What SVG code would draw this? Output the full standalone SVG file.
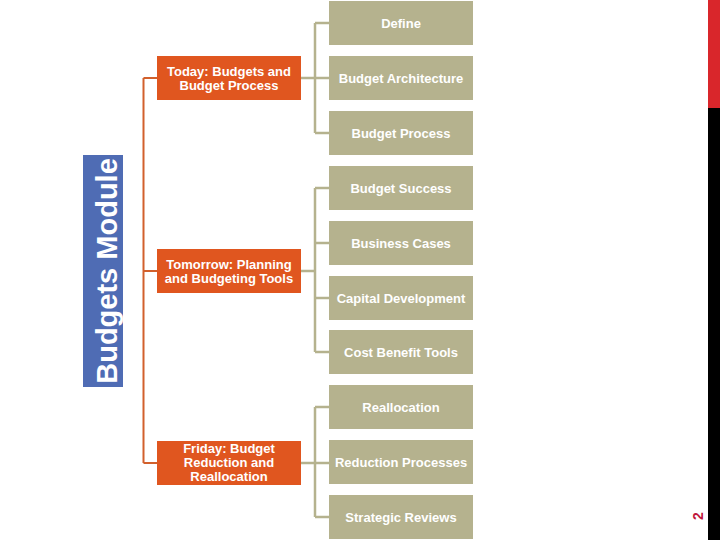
<svg xmlns="http://www.w3.org/2000/svg" width="720" height="540" viewBox="0 0 720 540">
<style>
.leaf{fill:#B5B28E}
.main{fill:#E0561F}
.t{font-family:"Liberation Sans",Arial,sans-serif;font-weight:bold;font-size:13px;fill:#FFFFFF;text-anchor:middle}
.g{stroke:#B5B28E;stroke-width:2.5;fill:none}
.o{stroke:#D2602C;stroke-width:2;fill:none}
</style>
<rect width="720" height="540" fill="#FFFFFF"/>
<rect x="708" y="0" width="12" height="108" fill="#D9262B"/>
<rect x="708" y="108" width="12" height="432" fill="#000000"/>
<text x="0" y="0" transform="translate(703,516) rotate(-90)" font-family="Liberation Sans,Arial,sans-serif" font-size="14" font-weight="bold" fill="#C0163C" text-anchor="middle">2</text>
<g id="title">
<rect x="83" y="155" width="40" height="232" fill="#4F6CB4"/>
<text x="0" y="0" transform="translate(117,271) rotate(-90)" font-family="Liberation Sans,Arial,sans-serif" font-size="29" font-weight="bold" fill="#FFFFFF" text-anchor="middle">Budgets Module</text>
</g>
<g id="connectors">
<path class="o" d="M143.5,78 V463 M143.5,78 H157 M143.5,271 H157 M143.5,463 H157"/>
<path class="g" d="M315,23 V133 M301,78 H329 M315,23 H329 M315,133 H329"/>
<path class="g" d="M315,188 V352 M301,271 H315 M315,188 H329 M315,243 H329 M315,298 H329 M315,352 H329"/>
<path class="g" d="M315,407 V517 M301,463 H329 M315,407 H329 M315,517 H329"/>
</g>
<g id="today"><rect class="main" x="157" y="56" width="144" height="44"/><text class="t" x="229" y="76">Today: Budgets and</text><text class="t" x="229" y="90">Budget Process</text></g>
<g id="tomorrow"><rect class="main" x="157" y="249" width="144" height="44"/><text class="t" x="229" y="268.5">Tomorrow: Planning</text><text class="t" x="229" y="282.5">and Budgeting Tools</text></g>
<g id="friday"><rect class="main" x="157" y="441" width="144" height="44"/><text class="t" x="229" y="452.5">Friday: Budget</text><text class="t" x="229" y="466.5">Reduction and</text><text class="t" x="229" y="480.5">Reallocation</text></g>
<g id="define"><rect class="leaf" x="329" y="1" width="144" height="44"/><text class="t" x="401" y="27.5">Define</text></g>
<g id="architecture"><rect class="leaf" x="329" y="56" width="144" height="44"/><text class="t" x="401" y="82.5">Budget Architecture</text></g>
<g id="process"><rect class="leaf" x="329" y="111" width="144" height="44"/><text class="t" x="401" y="137.5">Budget Process</text></g>
<g id="success"><rect class="leaf" x="329" y="166" width="144" height="44"/><text class="t" x="401" y="192.5">Budget Success</text></g>
<g id="business"><rect class="leaf" x="329" y="221" width="144" height="44"/><text class="t" x="401" y="247.5">Business Cases</text></g>
<g id="capital"><rect class="leaf" x="329" y="276" width="144" height="44"/><text class="t" x="401" y="302.5">Capital Development</text></g>
<g id="cost"><rect class="leaf" x="329" y="330" width="144" height="44"/><text class="t" x="401" y="356.5">Cost Benefit Tools</text></g>
<g id="reallocation"><rect class="leaf" x="329" y="385" width="144" height="44"/><text class="t" x="401" y="411.5">Reallocation</text></g>
<g id="reduction"><rect class="leaf" x="329" y="440" width="144" height="44"/><text class="t" x="401" y="466.5">Reduction Processes</text></g>
<g id="strategic"><rect class="leaf" x="329" y="495" width="144" height="44"/><text class="t" x="401" y="521.5">Strategic Reviews</text></g>
</svg>
